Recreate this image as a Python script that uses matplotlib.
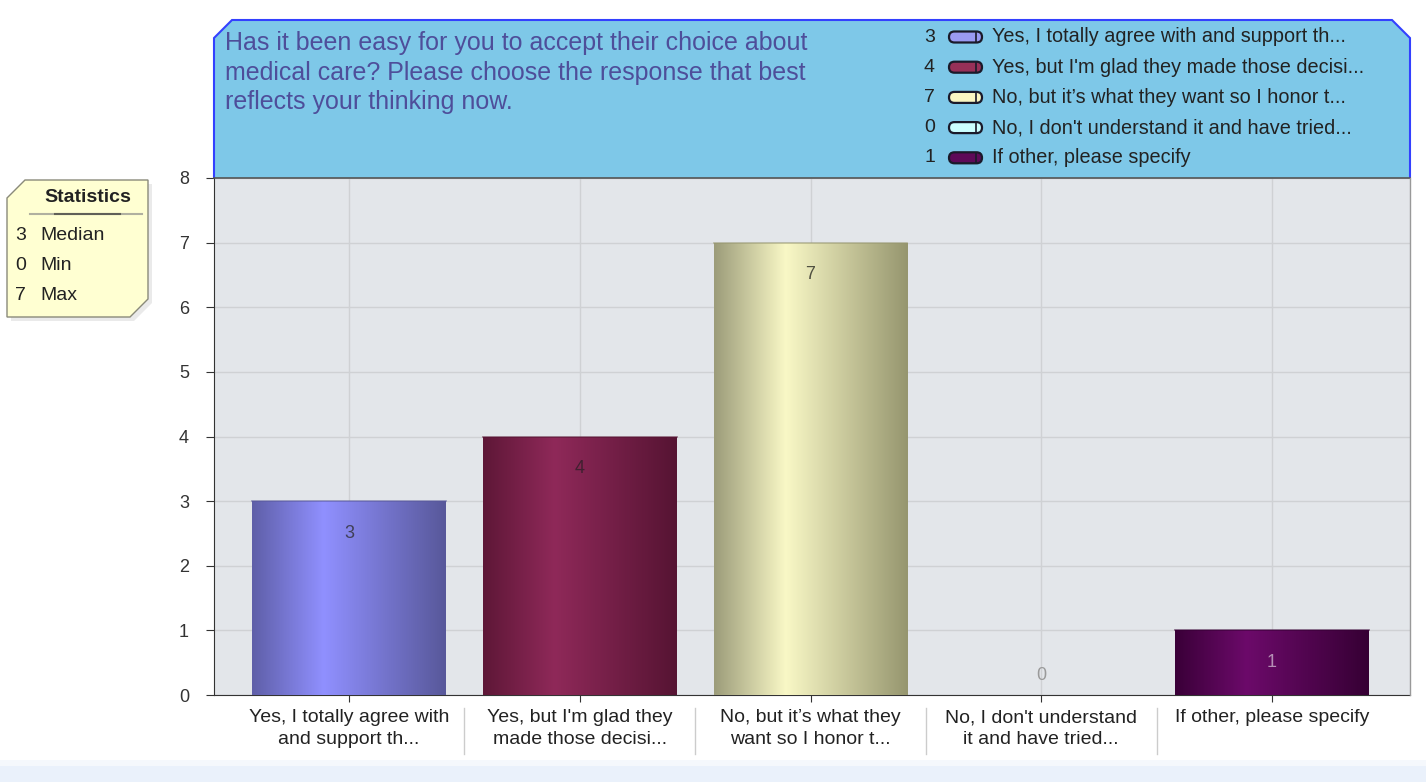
import numpy as np
import matplotlib
matplotlib.use("Agg")
import matplotlib.pyplot as plt
from matplotlib.colors import LinearSegmentedColormap
from matplotlib.patches import Polygon, FancyBboxPatch, Rectangle

plt.rcParams['font.family'] = ['Liberation Sans', 'DejaVu Sans']

# ---------------- data ----------------
title = ("Has it been easy for you to accept their choice about\n"
         "medical care? Please choose the response that best\n"
         "reflects your thinking now.")
legend_labels = ["Yes, I totally agree with and support th...",
                 "Yes, but I'm glad they made those decisi...",
                 "No, but it\u2019s what they want so I honor t...",
                 "No, I don't understand it and have tried...",
                 "If other, please specify"]
tick_labels = ["Yes, I totally agree with\nand support th...",
               "Yes, but I'm glad they\nmade those decisi...",
               "No, but it\u2019s what they\nwant so I honor t...",
               "No, I don't understand\nit and have tried...",
               "If other, please specify"]
values = [3, 4, 7, 0, 1]
stat_names = ["Median", "Min", "Max"]
stat_values = [3, 0, 7]
yticks = [0, 1, 2, 3, 4, 5, 6, 7, 8]

# colour profiles (left edge, highlight, right edge)
bar_profiles = [("#5f5fa8", "#9090ff", "#58589a"),
                ("#5e1737", "#8f2959", "#561433"),
                ("#9c9c7a", "#f9f8c6", "#96966f"),
                ("#9fd8d8", "#d8ffff", "#9fd0d0"),
                ("#3a0038", "#6c0a6a", "#360034")]
swatch_colors = ["#9a9af2", "#973058", "#faf6c2", "#ccffff", "#5e0a58"]
label_colors = ["#404058", "#402030", "#505040", "#9a9a9a", "#b58fb5"]

W, H = 1426, 782
fig = plt.figure(figsize=(W / 100, H / 100), dpi=100)
fig.patch.set_facecolor("white")

L, R, T, B = 214, 1410, 178, 695
ax = fig.add_axes([L / W, 1 - B / H, (R - L) / W, (B - T) / H])
ax.set_facecolor("#e3e6ea")
x = np.arange(len(values))
ax.set_xlim(-0.585, 4.598)
ax.set_ylim(0, 8)
ax.set_yticks(yticks)
ax.set_xticks(x)
ax.set_xticklabels([])
ax.grid(True, color="#cfd1d4", linewidth=1)
ax.set_axisbelow(True)
for s in ["top", "right"]:
    ax.spines[s].set_visible(False)
ax.spines["left"].set_color("#333333")
ax.spines["bottom"].set_color("#333333")
ax.tick_params(axis="y", length=6, labelsize=13, colors="#333333", pad=12)
ax.tick_params(axis="x", length=5, colors="#333333")

bars = ax.bar(x, values, width=0.84, color="none", edgecolor="none", zorder=3)
for i, (b, v) in enumerate(zip(bars, values)):
    if v > 0:
        c0, c1, c2 = bar_profiles[i]
        cmap = LinearSegmentedColormap.from_list("g%d" % i, [(0, c0), (0.37, c1), (1, c2)])
        grad = np.linspace(0, 1, 256).reshape(1, -1)
        bx, bw = b.get_x(), b.get_width()
        im = ax.imshow(grad, cmap=cmap, aspect="auto", extent=[bx, bx + bw, 0, v],
                       zorder=3, interpolation="bicubic")
        im.set_clip_path(b)
        ax.plot([bx, bx + bw], [v, v], color=c2, lw=1.2, alpha=0.6, zorder=4)
    ypos = max(v - 0.5, 0.3)
    ax.text(i, ypos, str(v), ha="center", va="center", fontsize=13,
            color=label_colors[i], zorder=5)

# x tick labels
for i, lab in enumerate(tick_labels):
    ax.text(i, -0.22, lab, ha="center", va="top", fontsize=14, color="#222222",
            linespacing=1.35, transform=ax.transData, clip_on=False)
for i in range(len(values) - 1):
    ax.plot([i + 0.5, i + 0.5], [-0.2, -0.92], color="#cccccc", lw=1, clip_on=False)
ax.set_ylim(0, 8)
ax.set_xlim(-0.585, 4.598)

# overlay in pixel coords
ov = fig.add_axes([0, 0, 1, 1], zorder=10)
ov.set_xlim(0, W)
ov.set_ylim(H, 0)
ov.axis("off")
ov.patch.set_alpha(0)

# bottom strip
ov.add_patch(Rectangle((0, 766), W, 16, facecolor="#eaf1fb", edgecolor="none"))
ov.add_patch(Rectangle((0, 760), W, 6, facecolor="#f5f8fc", edgecolor="none"))

# header box
hdr = [(L, T), (L, 38), (L + 18, 20), (R - 18, 20), (R, 38), (R, T)]
ov.add_patch(Polygon(hdr, closed=False, facecolor="#7ec8e8", edgecolor="#3340ff", lw=1.5))
ov.plot([L, R], [T, T], color="#555555", lw=1.2)
ov.plot([R, R], [T, B], color="#999999", lw=1)
ov.text(225, 31, title, ha="left", va="top", fontsize=18, color="#4e4e9a",
        linespacing=1.3)

# legend
for i, (lab, v) in enumerate(zip(legend_labels, values)):
    yy = 37 + i * 30.2
    ov.text(935, yy, str(v), ha="right", va="center", fontsize=14, color="#222222")
    ov.add_patch(FancyBboxPatch((949, yy - 5.5), 33, 11,
                                boxstyle="round,pad=0,rounding_size=5.5",
                                facecolor=swatch_colors[i], edgecolor="#1a1a2a", lw=1.6))
    ov.plot([976, 976], [yy - 5, yy + 5], color="#1a1a2a", lw=1.2)
    ov.text(992, yy, lab, ha="left", va="center", fontsize=14.3, color="#222222")

# statistics box
sx0, sx1, sy0, sy1 = 7, 148, 180, 317
shadow = [(sx0 + 18 + 4, sy0 + 4), (sx1 + 4, sy0 + 4), (sx1 + 4, sy1 - 18 + 4),
          (sx1 - 18 + 4, sy1 + 4), (sx0 + 4, sy1 + 4), (sx0 + 4, sy0 + 18 + 4)]
ov.add_patch(Polygon(shadow, closed=True, facecolor="#dddddd", edgecolor="none", alpha=0.6))
sb = [(sx0 + 18, sy0), (sx1, sy0), (sx1, sy1 - 18), (sx1 - 18, sy1), (sx0, sy1), (sx0, sy0 + 18)]
ov.add_patch(Polygon(sb, closed=True, facecolor="#ffffd2", edgecolor="#8a8a7a", lw=1))
ov.text(88, 197, "Statistics", ha="center", va="center", fontsize=14,
        fontweight="bold", color="#222222")
ov.plot([30, 142], [214, 214], color="#b0b0a0", lw=1.5)
ov.plot([55, 120], [214, 214], color="#606058", lw=1.5)
for i, (n, v) in enumerate(zip(stat_names, stat_values)):
    yy = 235 + i * 30.5
    ov.text(15, yy, str(v), ha="left", va="center", fontsize=14, color="#222222")
    ov.text(40, yy, n, ha="left", va="center", fontsize=14, color="#222222")

fig.savefig("out.png", dpi=100)
